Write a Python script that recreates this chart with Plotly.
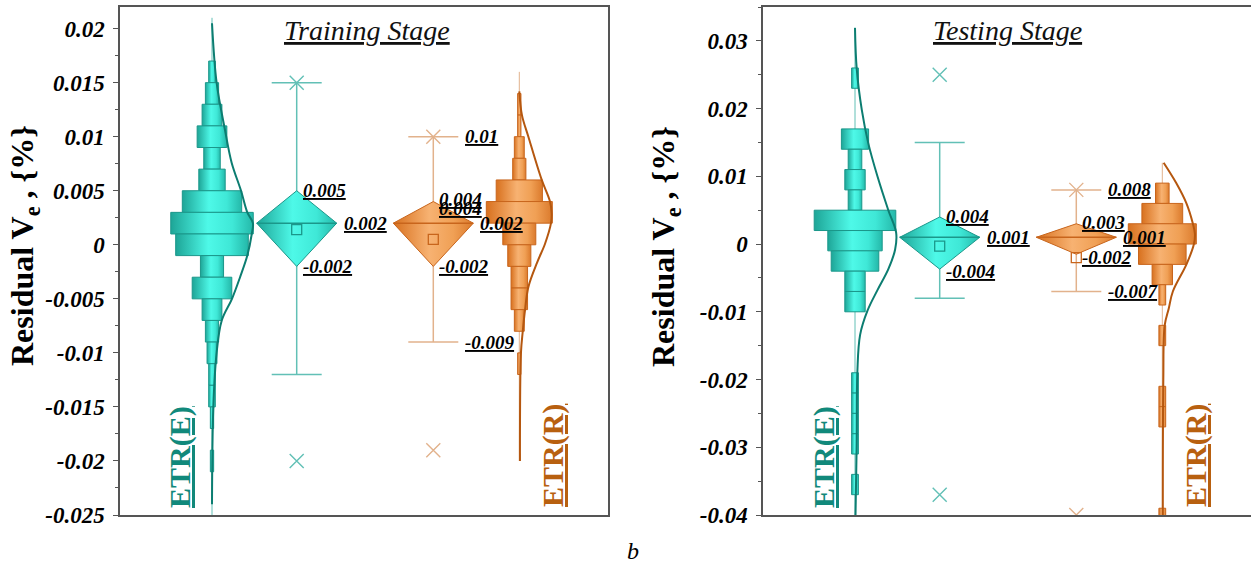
import plotly.graph_objects as go

# ---------------- DATA ----------------
# Training stage histogram bins (bin centres, counts), bin width 0.002
train_E_centers = [0.016, 0.014, 0.012, 0.010, 0.008, 0.006, 0.004, 0.002, 0.000,
                   -0.002, -0.004, -0.006, -0.008, -0.010, -0.012, -0.014, -0.016, -0.018, -0.020]
train_E_counts = [2, 4, 6, 9, 5, 8, 18, 25, 22, 7, 12, 6, 4, 3, 2, 2, 1, 0, 1]
train_R_centers = [0.013, 0.011, 0.009, 0.007, 0.005, 0.003, 0.001, -0.001,
                   -0.003, -0.005, -0.007, -0.009, -0.011]
train_R_counts = [1, 1, 3, 4, 14, 20, 10, 7, 5, 5, 3, 0, 1]
train_bin_width = 0.002

# Testing stage histogram bins, bin width 0.003
test_E_centers = [0.0245, 0.0215, 0.0185, 0.0155, 0.0125, 0.0095, 0.0065, 0.0035, 0.0005,
                  -0.0025, -0.0055, -0.0085, -0.0115, -0.0145, -0.0175, -0.0205, -0.0235,
                  -0.0265, -0.0295, -0.0325, -0.0355]
test_E_counts = [1, 0, 0, 4, 2, 3, 2, 12, 8, 7, 3, 3, 0, 0, 0, 1, 1, 1, 1, 0, 1]
test_R_centers = [0.0075, 0.0045, 0.0015, -0.0015, -0.0045, -0.0075, -0.0105, -0.0135,
                  -0.0165, -0.0195, -0.0225, -0.0255, -0.0285, -0.0315, -0.0345, -0.0375, -0.0405]
test_R_counts = [2, 6, 10, 7, 3, 1, 0, 1, 0, 0, 1, 1, 0, 0, 0, 0, 1]
test_bin_width = 0.003

# Distribution curves (value, density in count units)
train_E_curve_y = [0.0205, 0.015, 0.0106, 0.0076, 0.005, 0.003, 0.002, 0.001, -0.001,
                   -0.003, -0.005, -0.007, -0.010, -0.015, -0.024]
train_E_curve_d = [0, 2.8, 7.9, 11.9, 17.6, 21.4, 24.8, 24.1, 21.4, 17.0, 12.1, 5.9, 2.8, 0.8, 0]
train_R_curve_y = [0.0142, 0.012, 0.010, 0.006, 0.004, 0.0029, 0.002, 0.0001, -0.0016,
                   -0.0039, -0.006, -0.008, -0.010, -0.020]
train_R_curve_d = [0, 1.6, 5.5, 13.6, 18.6, 19.6, 19.2, 15.6, 10.9, 5.5, 3.5, 2.1, 1.0, 0.4]
test_E_curve_y = [0.0319, 0.0259, 0.0198, 0.0149, 0.010, 0.005, 0.0017, -0.0008, -0.0037,
                  -0.0068, -0.0098, -0.0134, -0.0188, -0.0295, -0.040]
test_E_curve_d = [0, 0.5, 2.0, 3.9, 6.6, 9.8, 12.1, 11.8, 9.8, 6.6, 3.7, 1.5, 0.7, 0.5, 0.15]
test_R_curve_y = [0.012, 0.009, 0.006, 0.003, 0.0015, 0.0, -0.003, -0.007, -0.0095,
                  -0.012, -0.020, -0.040]
test_R_curve_d = [0.4, 4.1, 7.1, 9.0, 9.6, 9.3, 7.1, 3.1, 1.9, 0.7, 0.3, 0.15]

# Data range (thin centre line of each histogram): [min, max]
train_E_range = [-0.025, 0.021]
train_R_range = [-0.020, 0.016]
test_E_range = [-0.040, 0.032]
test_R_range = [-0.040, 0.012]

# Box (diamond) statistics, order: [ETR(E), ETR(R)]
train_q1 = [-0.002, -0.002]
train_median = [0.002, 0.002]
train_q3 = [0.005, 0.004]
train_mean = [0.0014, 0.0005]
train_whisker_lo = [-0.012, -0.009]
train_whisker_hi = [0.015, 0.010]
train_x_lo = [-0.020, -0.019]
train_x_hi = [0.015, 0.010]

test_q1 = [-0.0037, -0.0015]
test_median = [0.001, 0.001]
test_q3 = [0.004, 0.003]
test_mean = [-0.0003, -0.002]
test_whisker_lo = [-0.008, -0.007]
test_whisker_hi = [0.015, 0.008]
test_x_lo = [-0.037, -0.040]
test_x_hi = [0.025, 0.008]

# value labels: (series index, kind, value, text)
train_labels = [(0, 'q', 0.005, '0.005'), (0, 'm', 0.002, '0.002'), (0, 'q', -0.002, '-0.002'),
                (1, 'w', 0.010, '0.01'), (1, 'q', 0.0042, '0.004'), (1, 'q', 0.0034, '0.004'),
                (1, 'm', 0.002, '0.002'), (1, 'q', -0.002, '-0.002'), (1, 'w', -0.009, '-0.009')]
test_labels = [(0, 'q', 0.004, '0.004'), (0, 'm', 0.001, '0.001'), (0, 'q', -0.004, '-0.004'),
               (1, 'w', 0.008, '0.008'), (1, 'q', 0.0032, '0.003'), (1, 'm', 0.001, '0.001'),
               (1, 'q', -0.002, '-0.002'), (1, 'w', -0.007, '-0.007')]

series_names = ['ETR(E)', 'ETR(R)']
train_tickvals = [0.02, 0.015, 0.01, 0.005, 0, -0.005, -0.01, -0.015, -0.02, -0.025]
train_ticktext = ['0.02', '0.015', '0.01', '0.005', '0', '-0.005', '-0.01', '-0.015', '-0.02', '-0.025']
test_tickvals = [0.03, 0.02, 0.01, 0, -0.01, -0.02, -0.03, -0.04]
test_ticktext = ['0.03', '0.02', '0.01', '0', '-0.01', '-0.02', '-0.03', '-0.04']

# ---------------- STYLE ----------------
FONT = 'Liberation Serif'
W, H = 1251, 566
X_HIST_E, X_BOX_E, X_BOX_R, X_HIST_R = 92, 176.7, 313.3, 399.3
DIAM_HALF = 40
CAP_HALF = 25

teal = dict(cs=[[0, '#1ea597'], [0.45, '#4ef9e8'], [0.75, '#3fe8d7'], [1, '#24b8a9']],
            edge='#1b978a', curve='#0c7d71', whisk='#62c0b6', text='#11897b')
orng = dict(cs=[[0, '#d8711f'], [0.45, '#f7b272'], [0.75, '#f0a055'], [1, '#db7a2c']],
            edge='#c8651c', curve='#b5570f', whisk='#e2b28c', text='#b8600f')

fig = go.Figure()


def add_hist(xa, ya, xc, centers, counts, bw, unit, st, rng):
    # thin centre line (data range)
    fig.add_trace(go.Scatter(x=[xc, xc], y=rng, mode='lines', line=dict(color=st['whisk'], width=1),
                             xaxis=xa, yaxis=ya, hoverinfo='skip', showlegend=False))
    for yc, n in zip(centers, counts):
        if n <= 0:
            continue
        h = n * unit
        lo, hi = yc - bw / 2, yc + bw / 2
        fig.add_trace(go.Scatter(x=[xc - h, xc + h, xc + h, xc - h, xc - h], y=[lo, lo, hi, hi, lo],
                                 mode='lines', fill='toself',
                                 fillgradient=dict(type='horizontal', colorscale=st['cs']),
                                 line=dict(color=st['edge'], width=1),
                                 xaxis=xa, yaxis=ya, hoverinfo='skip', showlegend=False))


def add_curve(xa, ya, xc, cy, cd, unit, st):
    fig.add_trace(go.Scatter(x=[xc + d * unit for d in cd], y=cy, mode='lines',
                             line=dict(color=st['curve'], width=2, shape='spline', smoothing=1.0),
                             xaxis=xa, yaxis=ya, hoverinfo='skip', showlegend=False))


def add_box(xa, ya, xc, q1, med, q3, mean, wlo, whi, xlo, xhi, st):
    fig.add_trace(go.Scatter(x=[xc, xc], y=[wlo, whi], mode='lines', line=dict(color=st['whisk'], width=1.5),
                             xaxis=xa, yaxis=ya, hoverinfo='skip', showlegend=False))
    for v in (wlo, whi):
        fig.add_trace(go.Scatter(x=[xc - CAP_HALF, xc + CAP_HALF], y=[v, v], mode='lines',
                                 line=dict(color=st['whisk'], width=1.5),
                                 xaxis=xa, yaxis=ya, hoverinfo='skip', showlegend=False))
    fig.add_trace(go.Scatter(x=[xc - DIAM_HALF, xc, xc + DIAM_HALF, xc, xc - DIAM_HALF],
                             y=[med, q3, med, q1, med], mode='lines', fill='toself',
                             fillgradient=dict(type='horizontal', colorscale=st['cs']),
                             line=dict(color=st['edge'], width=1),
                             xaxis=xa, yaxis=ya, hoverinfo='skip', showlegend=False))
    fig.add_trace(go.Scatter(x=[xc - DIAM_HALF, xc + DIAM_HALF], y=[med, med], mode='lines',
                             line=dict(color=st['edge'], width=1.5),
                             xaxis=xa, yaxis=ya, hoverinfo='skip', showlegend=False))
    fig.add_trace(go.Scatter(x=[xc], y=[mean], mode='markers',
                             marker=dict(symbol='square-open', size=10, color=st['edge'], line=dict(width=1.3)),
                             xaxis=xa, yaxis=ya, hoverinfo='skip', showlegend=False))
    fig.add_trace(go.Scatter(x=[xc, xc], y=[xlo, xhi], mode='markers',
                             marker=dict(symbol='x-thin', size=14, color=st['whisk'],
                                         line=dict(width=1.4, color=st['whisk'])),
                             xaxis=xa, yaxis=ya, hoverinfo='skip', showlegend=False))


panels = [
    ('x', 'y', train_E_centers, train_E_counts, train_R_centers, train_R_counts, train_bin_width, 1.65,
     (train_E_curve_y, train_E_curve_d), (train_R_curve_y, train_R_curve_d), train_E_range, train_R_range,
     (train_q1, train_median, train_q3, train_mean, train_whisker_lo, train_whisker_hi, train_x_lo, train_x_hi),
     train_labels),
    ('x2', 'y2', test_E_centers, test_E_counts, test_R_centers, test_R_counts, test_bin_width, 3.4,
     (test_E_curve_y, test_E_curve_d), (test_R_curve_y, test_R_curve_d), test_E_range, test_R_range,
     (test_q1, test_median, test_q3, test_mean, test_whisker_lo, test_whisker_hi, test_x_lo, test_x_hi),
     test_labels),
]

annotations = []
for (xa, ya, ec, en, rc, rn, bw, unit, ecur, rcur, erng, rrng, stats, labels) in panels:
    add_hist(xa, ya, X_HIST_E, ec, en, bw, unit, teal, erng)
    add_curve(xa, ya, X_HIST_E, ecur[0], ecur[1], unit, teal)
    add_hist(xa, ya, X_HIST_R, rc, rn, bw, unit, orng, rrng)
    add_curve(xa, ya, X_HIST_R, rcur[0], rcur[1], unit, orng)
    q1, med, q3, mean, wlo, whi, xlo, xhi = stats
    for i, (xc, st) in enumerate([(X_BOX_E, teal), (X_BOX_R, orng)]):
        add_box(xa, ya, xc, q1[i], med[i], q3[i], mean[i], wlo[i], whi[i], xlo[i], xhi[i], st)
    for (i, kind, v, t) in labels:
        xc = [X_BOX_E, X_BOX_R][i]
        dx = {'q': 4, 'm': DIAM_HALF + 5, 'w': CAP_HALF + 5}[kind]
        annotations.append(dict(x=xc + dx, y=v, xref=xa, yref=ya, text='<b><i><u>%s</u></i></b>' % t,
                                showarrow=False, xanchor='left', yanchor='middle',
                                font=dict(family=FONT, size=19, color='black')))

dom_y = [1 - 515 / H, 1 - 7 / H]
axis_common = dict(showline=True, linecolor='#555555', linewidth=1.5, mirror=True, showgrid=False,
                   zeroline=False, automargin=False)
tickfont = dict(family=FONT, size=23, color='black', weight='bold', style='italic')
fig.update_layout(
    width=W, height=H, margin=dict(l=0, r=0, t=0, b=0, pad=0, autoexpand=False),
    paper_bgcolor='white', plot_bgcolor='white', showlegend=False,
    xaxis=dict(domain=[120 / W, 608 / W], range=[0, 488], showticklabels=False, ticks='', **axis_common),
    xaxis2=dict(domain=[763 / W, 1.0], range=[0, 488], showticklabels=False, ticks='', anchor='y2',
                **axis_common),
    yaxis=dict(domain=dom_y, range=[-0.025, 0.022], tickmode='array', tickvals=train_tickvals,
               ticktext=train_ticktext, ticks='outside', ticklen=5, tickwidth=1.3, tickcolor='#555555',
               ticklabelstandoff=4,
               minor=dict(ticks='outside', ticklen=3, tickwidth=1, tickcolor='#555555', tick0=0, dtick=0.0025),
               tickfont=tickfont, **axis_common),
    yaxis2=dict(domain=dom_y, range=[-0.04, 0.035], anchor='x2', tickmode='array', tickvals=test_tickvals,
                ticktext=test_ticktext, ticks='outside', ticklen=5, tickwidth=1.3, tickcolor='#555555',
                ticklabelstandoff=4,
                minor=dict(ticks='outside', ticklen=3, tickwidth=1, tickcolor='#555555', tick0=0, dtick=0.005),
                tickfont=tickfont, **axis_common),
)


def px(xp, yp):
    return xp / W, 1 - yp / H

for (xp, yp, t) in [(367, 31, 'Training Stage'), (1007, 31, 'Testing Stage')]:
    x, y = px(xp, yp)
    annotations.append(dict(x=x, y=y, xref='paper', yref='paper', text='<i><u>%s</u></i>' % t,
                            showarrow=False, xanchor='center', yanchor='middle',
                            font=dict(family=FONT, size=28, color='#111111')))
for (xp, yp, t, c) in [(180, 457, series_names[0], teal['text']), (553, 456, series_names[1], orng['text']),
                       (824, 457, series_names[0], teal['text']), (1196, 456, series_names[1], orng['text'])]:
    x, y = px(xp, yp)
    annotations.append(dict(x=x, y=y, xref='paper', yref='paper', text='<b><u>%s</u></b>' % t,
                            showarrow=False, xanchor='center', yanchor='middle', textangle=-90,
                            font=dict(family=FONT, size=30, color=c)))
for (xp, yp) in [(24, 246), (665, 246)]:
    x, y = px(xp, yp)
    annotations.append(dict(x=x, y=y, xref='paper', yref='paper',
                            text='<b>Residual V<sub>e</sub> , {%}</b>',
                            showarrow=False, xanchor='center', yanchor='middle', textangle=-90,
                            font=dict(family=FONT, size=32, color='black')))
x, y = px(633, 551)
annotations.append(dict(x=x, y=y, xref='paper', yref='paper', text='<i>b</i>', showarrow=False,
                        xanchor='center', yanchor='middle', font=dict(family=FONT, size=24, color='black')))

fig.update_layout(annotations=annotations)
fig.write_html('out.html')
